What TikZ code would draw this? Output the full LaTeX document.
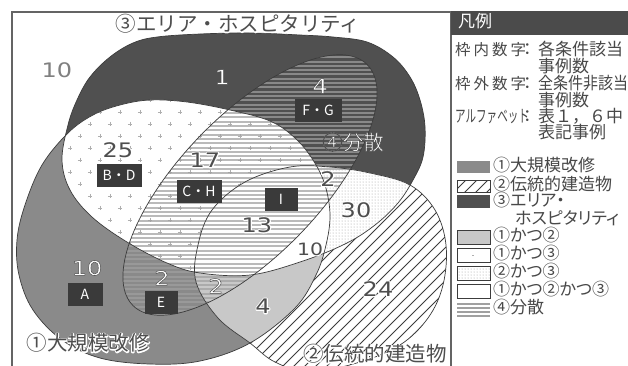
\documentclass[tikz,border=0pt]{standalone}
\usepackage{fontspec}
\usepackage{graphicx}
\setmainfont{Noto Sans CJK JP}
\newfontfamily\jpfont{Noto Sans CJK JP}
\newfontfamily\jppfont[RawFeature=+palt]{Noto Sans CJK JP}
\newfontfamily\numfont[FakeStretch=1.2]{DejaVu Sans}
\usetikzlibrary{patterns}
\definecolor{cOne}{RGB}{138,138,138}
\definecolor{cThree}{RGB}{80,80,80}
\definecolor{cOneTwo}{RGB}{200,200,200}
\definecolor{txtc}{RGB}{72,72,72}
\definecolor{fillc}{RGB}{78,78,78}
\definecolor{edgec}{RGB}{60,60,60}
\definecolor{stripec}{RGB}{160,160,160}
\definecolor{boxc}{RGB}{58,58,58}
\definecolor{framec}{RGB}{100,100,100}
\definecolor{headc}{RGB}{75,75,75}
\definecolor{crossc}{RGB}{175,175,175}
% dark text with a white halo underneath
\newcommand\numdark[1]{\rlap{\color{white}\special{pdf:literal direct 1 Tr 2 w 1 j 1 G}#1\special{pdf:literal direct 0 Tr}}\textcolor{fillc}{#1}}
% white text with a dark outline
\newcommand\numlight[1]{{\color{white}\special{pdf:literal direct 2 Tr 0.5 w 1 j 0.3 G}#1\special{pdf:literal direct 0 Tr}}}
\tikzset{
  shpOne/.style={insert path={plot[smooth cycle,tension=0.6] coordinates{(68,133) (93,115) (120,105) (150,100) (187,102) (230,110) (270,121) (295,138) (313,160) (325,185) (330,215) (326,245) (316,275) (295,308) (250,343) (200,361) (150,364) (100,358) (62,340) (33,310) (19,275) (17,240) (25,205) (42,165)}}},
  shpTwo/.style={insert path={plot[smooth cycle,tension=0.6] coordinates{(196,282) (198,245) (212,210) (245,182) (290,167) (330,167) (370,173) (410,185) (435,210) (446,245) (443,285) (428,318) (400,345) (360,362) (310,372) (275,362) (250,343) (218,318)}}},
  shpThree/.style={insert path={plot[smooth cycle,tension=0.6] coordinates{(62,160) (68,125) (77,100) (90,77) (110,57) (133,43) (157,37) (200,34) (250,33) (300,35) (333,37) (367,42) (393,57) (410,77) (420,100) (425,127) (423,157) (413,180) (398,203) (375,225) (345,244) (300,262) (250,275) (200,273) (167,263) (127,242) (92,217) (70,190)}}},
  shpFour/.style={insert path={plot[domain=0:360,samples=145] ({250+168*cos(\x)*cos(46)+70*sin(\x)*sin(46)},{185-168*cos(\x)*sin(46)+70*sin(\x)*cos(46)}) -- cycle}},
  edgeline/.style={draw=edgec, line width=0.7},
  hatchline/.style={draw=edgec, line width=0.9},
  stripeline/.style={draw=stripec, line width=2, opacity=0.72},
  crossline/.style={draw=crossc, line width=0.8},
  numd/.style={font=\numfont\fontsize{20}{20}\selectfont, inner sep=0},
  lbl/.style={font=\jpfont\fontsize{20.5}{20.5}\selectfont, inner sep=0},
  lettbox/.style={fill=boxc, text=white, font=\jpfont\fontsize{14}{14}\selectfont, minimum height=23, inner xsep=2, inner ysep=0},
  lgtxt/.style={font=\jppfont\fontsize{17}{17}\selectfont, text=txtc, inner sep=0, anchor=west, text height=11, text depth=1.5},
  swatch/.style={draw=edgec, line width=0.7}
}
\begin{document}
\begin{tikzpicture}[x=1pt,y=-1pt]
\useasboundingbox (0,0) rectangle (628,365);
\fill[white] (0,0) rectangle (628,365);
\begin{scope}
  \clip (12,12) rectangle (451,370);
  \fill[cOne, shpOne];
  \fill[cThree, shpThree];
  \begin{scope}
    \clip[shpTwo];
    \fill[white] (0,0) rectangle (460,380);
    \foreach \k in {-60,-49,...,470} \draw[hatchline] (\k,390) -- (\k+260,130);
  \end{scope}
  \begin{scope}
    \clip[shpOne]; \clip[shpThree];
    \fill[white] (0,0) rectangle (460,380);
    \foreach \r in {0,...,24} {
      \foreach \c in {0,...,18} {
        \pgfmathsetmacro\xx{40+20*\c+10*mod(\r,2)}
        \pgfmathsetmacro\yy{40+12*\r}
        \draw[crossline] (\xx-2.2,\yy) -- (\xx+2.2,\yy) (\xx,\yy-2.2) -- (\xx,\yy+2.2);
      }
    }
  \end{scope}
  \begin{scope}
    \clip[shpTwo]; \clip[shpThree];
    \fill[white] (0,0) rectangle (460,380);
    \fill[pattern=dots, pattern color=gray!80] (0,0) rectangle (460,380);
  \end{scope}
  \begin{scope}
    \clip[shpOne]; \clip[shpTwo];
    \fill[cOneTwo] (0,0) rectangle (460,380);
  \end{scope}
  \begin{scope}
    \clip[shpOne]; \clip[shpTwo]; \clip[shpThree];
    \fill[white] (0,0) rectangle (460,380);
  \end{scope}
  \begin{scope}
    \clip[shpFour];
    \foreach \yy in {40,44.3,...,340} \draw[stripeline] (60,\yy) -- (440,\yy);
  \end{scope}
  \draw[edgeline, shpOne];
  \draw[edgeline, shpTwo];
  \draw[edgeline, shpThree];
  \draw[edgeline, shpFour];
\end{scope}
\draw[framec, line width=1.3] (12,370) -- (12,12) -- (451,12) -- (451,370);

% set titles
\node[lbl] (tThree) at (238,24) {\numdark{③エリア・ホスピタリティ}};
\node[lbl] (tOne) at (88,343) {\numdark{①大規模改修}};
\node[lbl] (tTwo) at (375,354) {\numdark{②伝統的建造物}};
\node[lbl] (tFour) at (353,142) {\numlight{④分散}};

% numbers
\node[numd, text=gray] (nOut) at (57,70) {10};
\node[numd] (nThree) at (222,77) {\numlight{1}};
\node[numd] (nTF) at (320,86) {\numlight{4}};
\node[numd] (nOT) at (118,150) {\numdark{25}};
\node[numd] (nOTF) at (205,160) {\numdark{17}};
\node[numd] (nTTF) at (328,179) {\numdark{2}};
\node[numd] (nTT) at (356,210) {\numdark{30}};
\node[numd] (nAll) at (257,225) {\numdark{13}};
\node[numd, font=\numfont\fontsize{17}{17}\selectfont] (nOTT) at (310,249) {\numdark{10}};
\node[numd] (nOne) at (87,268) {\numlight{10}};
\node[numd] (nOF) at (162,278) {\numlight{2}};
\node[numd] (nOTwF) at (216,286) {\numlight{2}};
\node[numd] (nOTw) at (263,306) {\numdark{4}};
\node[numd] (nTwo) at (378,289) {\numdark{24}};

% letter boxes
\node[lettbox, minimum width=47] (bFG) at (318,110) {F・G};
\node[lettbox, minimum width=45] (bBD) at (119,175) {B・D};
\node[lettbox, minimum width=45] (bCH) at (199,191) {C・H};
\node[lettbox, minimum width=33] (bI) at (281,199) {I};
\node[lettbox, minimum width=35] (bA) at (85,294) {A};
\node[lettbox, minimum width=33] (bE) at (161,302) {E};

% legend
\fill[headc] (451,11) rectangle (628,35);
\draw[framec, line width=1.3] (451,35) -- (451,370);
\node[lgtxt, text=white] (hd) at (458,23) {凡例};
\node[lgtxt, font=\jpfont\fontsize{15.5}{15.5}\selectfont] (r1a) at (455,51) {枠\hspace{3pt}内\hspace{3pt}数\hspace{3pt}字};
\node[lgtxt] (r1b) at (523,51) {：};
\node[lgtxt] (r1c) at (538,51) {各条件該当};
\node[lgtxt] (r2) at (538,68) {事例数};
\node[lgtxt, font=\jpfont\fontsize{15.5}{15.5}\selectfont] (r3a) at (455,85) {枠\hspace{3pt}外\hspace{3pt}数\hspace{3pt}字};
\node[lgtxt] (r3b) at (523,85) {：};
\node[lgtxt] (r3c) at (538,85) {\scalebox{0.88}[1]{全条件非該当}};
\node[lgtxt] (r4) at (538,102) {事例数};
\node[lgtxt, font=\jpfont\fontsize{17}{17}\selectfont] (r5a) at (455,118) {\scalebox{0.62}[1]{アルファベット}};
\node[lgtxt] (r5b) at (523,118) {：};
\node[lgtxt, font=\jpfont\fontsize{17}{17}\selectfont] (r5c) at (538,118) {表１，６中};
\node[lgtxt] (r6) at (538,134) {表記事例};

% swatches
\fill[cOne] (457,161) rectangle (490,173);
\begin{scope}
  \clip (457,180) rectangle (490,192);
  \foreach \k in {452,463,...,496} \draw[hatchline] (\k,194) -- (\k+16,178);
\end{scope}
\draw[swatch] (457,180) rectangle (490,192);
\fill[cThree] (457,195) rectangle (490,208);
\draw[swatch, fill=cOneTwo] (457,230) rectangle (490,244);
\draw[swatch] (457,248) rectangle (490,262);
\draw[crossline] (472,255) -- (474,255);
\fill[pattern=dots, pattern color=gray!80] (457,266) rectangle (490,280);
\draw[swatch] (457,266) rectangle (490,280);
\draw[swatch] (457,284) rectangle (490,298);
\foreach \yy in {303.5,307.8,312.1,316.4} \draw[draw=stripec, line width=2] (457,\yy) -- (490,\yy);

\node[lgtxt] (s1) at (493,167) {①大規模改修};
\node[lgtxt] (s2) at (493,186) {②伝統的建造物};
\node[lgtxt] (s3) at (493,202) {③エリア・};
\node[lgtxt] (s3b) at (515,220) {ホスピタリティ};
\node[lgtxt] (s4) at (493,237) {①かつ②};
\node[lgtxt] (s5) at (493,255) {①かつ③};
\node[lgtxt] (s6) at (493,273) {②かつ③};
\node[lgtxt] (s7) at (493,291) {①かつ②かつ③};
\node[lgtxt] (s8) at (493,309) {④分散};
\end{tikzpicture}
\end{document}
